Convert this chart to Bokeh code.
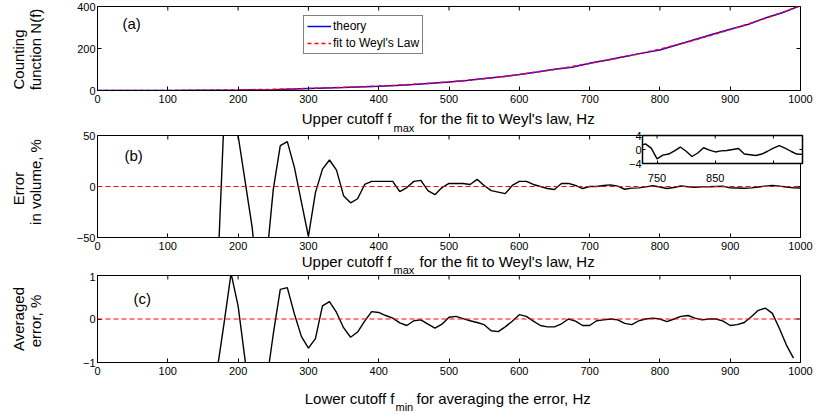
from math import pi
from bokeh.plotting import figure
from bokeh.layouts import column
from bokeh.models import (Range1d, LinearAxis, FixedTicker, Label, Span, Legend,
                          LegendItem, GridBox)
from bokeh.embed import file_html
from bokeh.resources import INLINE

FONT = "Liberation Sans"

# ---------------- data ----------------
f_tick_vals = [0, 100, 200, 300, 400, 500, 600, 700, 800, 900, 1000]
f_tick_labels = ["0", "100", "200", "300", "400", "500", "600", "700", "800", "900", "1000"]
a_tick_vals = [0, 200, 400]
a_tick_labels = ["0", "200", "400"]
b_tick_vals = [-50, 0, 50]
b_tick_labels = ["\u221250", "0", "50"]
c_tick_vals = [-1, 0, 1]
c_tick_labels = ["\u22121", "0", "1"]
inset_x_tick_vals = [750, 850, 950]
inset_x_tick_labels = ["750", "850", ""]
inset_y_tick_vals = [-4, 0, 4]
inset_y_tick_labels = ["\u22124", "0", "4"]

# (a) counting function
f_count = [0, 50, 100, 150, 200, 250, 300, 350, 400, 425, 450, 475, 500, 525, 550, 575,
           600, 625, 650, 675, 700, 725, 750, 775, 800, 825, 850, 875, 900, 925, 950, 975, 1000]
n_theory = [0, 0, 0, 1, 2, 4, 9, 14, 20, 24, 29, 35, 40, 48, 57, 66,
            76, 88, 101, 111, 130, 145, 162, 178, 193, 218, 243, 268, 292, 314, 345, 371, 405]
n_fit = [0, 0.1, 0.4, 1.3, 3, 5.5, 9.5, 15, 21, 25, 30, 35, 41, 48, 56, 65,
         76, 88, 100, 114, 129, 144, 161, 178, 197, 218, 241, 265, 290, 316, 344, 373, 404]

# (b) error in volume vs upper cutoff
f_max = [170, 180, 190, 200, 210, 220, 230, 240, 250, 260, 270, 280, 290, 300, 310, 320,
         330, 340, 350, 360, 370, 380, 390, 400, 410, 420, 430, 440, 450, 460, 470, 480,
         490, 500, 510, 520, 530, 540, 550, 560, 570, 580, 590, 600, 610, 620, 630, 640,
         650, 660, 670, 680, 690, 700, 710, 720, 730, 740, 750, 760, 770, 780, 790, 800,
         810, 820, 830, 840, 850, 860, 870, 880, 890, 900, 910, 920, 930, 940, 950, 960,
         970, 980, 990, 1000]
err_volume = [-100, 67, 110, 50, 5, -40, -110, -75, -3, 40, 44, 19, -15, -49, -6, 17,
              26, 16, -9, -16, -12, 2, 5, 5, 5, 5, -5, -1, 5, 6, -4, -8,
              -1, 3, 3, 3, 2, 7, 1, -4, -5.5, -7, 1, 5, 5, 2, 0, -2,
              -3, 3, 3, 1, -2, 0, 0, 1.0, 1.6, 0.4, -2.7, -1.6, -1.3, -0.4, 0.7, -0.5,
              -2.0, -1.0, 0.5, -0.2, -0.7, -0.4, -0.3, 0.0, 0.3, -1.3, -1.5, -1.7, -1.3, -0.5, 0.4, 1.1,
              0.4, -0.5, -1.3, -1.4]

# (c) averaged error vs lower cutoff
f_min = [170, 180, 190, 200, 210, 220, 230, 240, 250, 260, 270, 280, 290, 300, 310, 320,
         330, 340, 350, 360, 370, 380, 390, 400, 410, 420, 430, 440, 450, 460, 470, 480,
         490, 500, 510, 520, 530, 540, 550, 560, 570, 580, 590, 600, 610, 620, 630, 640,
         650, 660, 670, 680, 690, 700, 710, 720, 730, 740, 750, 760, 770, 780, 790, 800,
         810, 820, 830, 840, 850, 860, 870, 880, 890, 900, 910, 920, 930, 940, 950, 960,
         970, 980, 990]
err_avg = [-1.2, -0.1, 1.05, 0.3, -0.95, -2.0, -2.2, -1.5, -0.35, 0.68, 0.72, 0.12, -0.4, -0.67, -0.45, 0.3,
           0.4, 0.15, -0.2, -0.42, -0.3, -0.05, 0.17, 0.15, 0.08, 0.02, -0.09, -0.15, -0.04, -0.02, -0.12, -0.21,
           -0.12, 0.04, 0.06, 0.01, -0.04, -0.08, -0.13, -0.27, -0.29, -0.18, -0.05, 0.1, 0.06, -0.05, -0.15, -0.18,
           -0.18, -0.11, 0.0, -0.05, -0.15, -0.15, -0.04, -0.02, 0.0, -0.02, -0.1, -0.13, -0.04, 0.0, 0.02, 0.0,
           -0.06, 0.0, 0.06, 0.08, 0.02, -0.02, 0.0, 0.0, -0.05, -0.15, -0.13, -0.08, 0.05, 0.2, 0.25, 0.13,
           -0.22, -0.6, -0.9]


# ---------------- helpers ----------------
def style_axis(ax, ticks, labels, size="11px", standoff=3, tick_in=4):
    ax.ticker = FixedTicker(ticks=ticks)
    ax.major_label_overrides = {float(t): l for t, l in zip(ticks, labels)}
    ax.axis_line_color = "black"
    ax.axis_line_width = 1
    ax.major_tick_line_color = "black"
    ax.major_tick_line_width = 1
    ax.major_tick_in = tick_in
    ax.major_tick_out = 0
    ax.minor_tick_line_color = None
    ax.major_label_text_font = FONT
    ax.major_label_text_color = "black"
    ax.major_label_text_font_size = size
    ax.major_label_standoff = standoff


def mirror_ticks(p, xticks, yticks, tick_len):
    # inward tick marks on the top and right edges (half of each dash is clipped by the frame)
    xr, yr = p.x_range, p.y_range
    p.scatter(xticks, [yr.end] * len(xticks), marker="dash", size=2 * tick_len, angle=pi / 2,
              line_color="black", line_width=1)
    p.scatter([xr.end] * len(yticks), yticks, marker="dash", size=2 * tick_len,
              line_color="black", line_width=1)


def make_panel(height, yr, yt, yl, top, bottom):
    p = figure(width=819, height=height, x_range=Range1d(0, 1000), y_range=Range1d(*yr),
               output_backend="svg", toolbar_location=None, x_axis_type=None, y_axis_type=None,
               min_border_left=97, min_border_right=19, min_border_top=top, min_border_bottom=bottom)
    p.outline_line_color = "black"
    p.outline_line_width = 1
    p.background_fill_color = "white"
    p.border_fill_color = "white"
    xa = LinearAxis()
    style_axis(xa, f_tick_vals, f_tick_labels, standoff=4)
    p.add_layout(xa, "below")
    ya = LinearAxis()
    style_axis(ya, yt, yl, standoff=2)
    p.add_layout(ya, "left")
    mirror_ticks(p, f_tick_vals, yt, 4)
    return p


# ---------------- panel (a) ----------------
pa = make_panel(130, (0, 400), a_tick_vals, a_tick_labels, 6, 40)
r_th = pa.line(f_count, n_theory, line_color="#0000ff", line_width=1.5)
r_fit = pa.line(f_count, n_fit, line_color="#ff0000", line_width=1.5, line_dash="4 3")
leg = Legend(items=[LegendItem(label="theory", renderers=[r_th]),
                    LegendItem(label="fit to Weyl's Law", renderers=[r_fit])],
             location=(206, 36), border_line_color="black", border_line_width=1,
             background_fill_color="white", background_fill_alpha=1.0,
             label_text_font=FONT, label_text_font_size="12px", label_text_color="black",
             glyph_width=24, glyph_height=14, label_height=14, label_standoff=2,
             spacing=3, padding=3, margin=0)
pa.add_layout(leg)

# ---------------- panel (b) ----------------
pb = make_panel(142, (-50, 50), b_tick_vals, b_tick_labels, 4, 35)
pb.add_layout(Span(location=0, dimension="width", line_color="#ff0000", line_width=1, line_dash="5 3"))
pb.line(f_max, err_volume, line_color="black", line_width=1.4)

# ---------------- inset ----------------
pin = figure(frame_width=160, frame_height=28, x_range=Range1d(725, 1000), y_range=Range1d(-4, 4),
             output_backend="svg", toolbar_location=None, x_axis_type=None, y_axis_type=None,
             min_border_left=22, min_border_right=17, min_border_top=5, min_border_bottom=30)
pin.outline_line_color = "black"
pin.outline_line_width = 1.5
pin.background_fill_color = "white"
pin.border_fill_color = None
pin.border_fill_alpha = 0
ix = LinearAxis()
style_axis(ix, inset_x_tick_vals, inset_x_tick_labels, size="11px", standoff=10, tick_in=3)
pin.add_layout(ix, "below")
iy = LinearAxis()
style_axis(iy, inset_y_tick_vals, inset_y_tick_labels, size="11px", standoff=1, tick_in=3)
pin.add_layout(iy, "left")
mirror_ticks(pin, inset_x_tick_vals, inset_y_tick_vals, 3)
pin.line(f_max, err_volume, line_color="black", line_width=1.4)

# ---------------- panel (c) ----------------
pc = make_panel(143, (-1, 1), c_tick_vals, c_tick_labels, 3, 53)
pc.add_layout(Span(location=0, dimension="width", line_color="#ff0000", line_width=1, line_dash="5 3"))
pc.line(f_min, err_avg, line_color="black", line_width=1.4)

# ---------------- transparent text overlay (axis titles, panel tags) ----------------
ov = figure(width=819, height=415, x_range=Range1d(0, 819), y_range=Range1d(0, 415),
            output_backend="svg", toolbar_location=None, x_axis_type=None, y_axis_type=None,
            min_border=0, min_border_left=0, min_border_right=0, min_border_top=0,
            min_border_bottom=0, title=None)
ov.outline_line_color = None
ov.background_fill_color = None
ov.background_fill_alpha = 0
ov.border_fill_color = None
ov.border_fill_alpha = 0


def add_text(text, x, y_top, size="15px", align="left", angle=0.0):
    # x from the left edge, y_top (vertical centre) from the top edge of the page (screen pixels)
    ov.add_layout(Label(x=x, y=415 - y_top, x_units="screen", y_units="screen", text=text,
                        text_font=FONT, text_font_size=size, text_color="black",
                        text_align=align, text_baseline="middle", angle=angle))


def add_xlabel(main, sub, rest, x_main_end, x_sub, x_rest, mid, sub_mid):
    add_text(main, x_main_end, mid, align="right")
    add_text(sub, x_sub, sub_mid, size="11px")
    add_text(rest, x_rest, mid)


def add_ylabel(line1, line2, y1, y2):
    add_text(line1, 18, y1, align="center", angle=pi / 2)
    add_text(line2, 35, y2, align="center", angle=pi / 2)


add_text("(a)", 122, 23)
add_text("(b)", 124, 155)
add_text("(c)", 133, 298)
add_xlabel("Upper cutoff f", "max", "for the fit to Weyl's law, Hz", 391, 393, 419, 118.4, 127.3)
add_xlabel("Upper cutoff f", "max", "for the fit to Weyl's law, Hz", 391, 393, 419, 261, 269.3)
add_xlabel("Lower cutoff f", "min", "for averaging the error, Hz", 394, 395, 416, 398, 406.3)
add_ylabel("Counting", "function N(f)", 59, 49)
add_ylabel("Error", "in volume, %", 188, 181.5)
add_ylabel("Averaged", "error, %", 318.5, 320.5)

# wrapping the overlay in a column keeps the grid from aligning its frame with the panels
ov_box = column(ov)

layout = GridBox(children=[(pa, 0, 0, 1, 2), (pb, 1, 0, 1, 2), (pin, 1, 1, 1, 1),
                           (pc, 2, 0, 1, 2), (ov_box, 0, 0, 3, 2)],
                 rows=["130px", "142px", "143px"], cols=["620px", "199px"], spacing=0)

open("out.html", "w").write(file_html(layout, INLINE))
